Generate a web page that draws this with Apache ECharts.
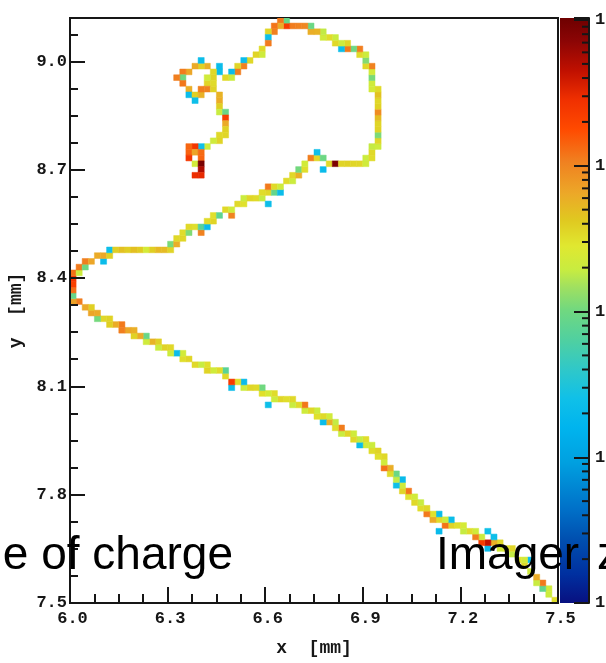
<!DOCTYPE html>
<html>
<head>
<meta charset="utf-8">
<script src="https://cdn.jsdelivr.net/npm/echarts@6.0.0/dist/echarts.min.js"></script>
<style>
  html, body { margin: 0; padding: 0; background: #ffffff; }
  #chart { width: 606px; height: 663px; }
</style>
</head>
<body>
<div id="chart"></div>
<script>
// Imager pixel hits of a single track: column / row index on the sensor and collected charge.
const pixelCol = [
  79,78,78,77,77,76,76,75,75,74, 74,73,72,72,71,70,70,69,69,68,
  68,68,67,67,66,66,65,64,64,63, 62,62,61,61,60,60,60,59,59,58,
  58,57,57,56,56,55,55,54,54,54, 53,53,53,52,52,51,51,51,50,50,
  49,49,48,48,47,47,46,46,45,44, 44,43,43,42,42,41,41,40,40,39,
  38,38,37,36,36,35,34,33,33,32, 32,31,31,30,29,28,28,27,26,26,
  25,25,24,23,22,22,21,20,19,18, 18,17,16,16,15,14,14,13,12,12,
  11,10,10,9,8,8,7,6,6,5, 4,4,3,3,2,1,0,0,0,0, 0,0,
  1,1,2,2,3,4,5,5,6,6, 7,8,9,10,11,12,13,14,15,16,
  16,17,17,18,18,19,19,20,21,21, 22,22,23,23,24,25,26,26,27,28,
  28,29,30,31,32,31,32,33,32,33, 34,34,35,36,36,37,37,38,38,39,
  40,40,41,41,42,43,44,45,46,47, 48,48,49,49,49,50,50,50,50,50,
  50,50,50,50,50,50,49,49,49,49, 49,48,48,48,47,47,46,45,44,45,
  44,43,43,42,41,41,40,39,39,38, 37,36,35,35,34,34,33,33,32,32,
  32,31,31,30,29,28,28,27,27,26, 26,25,24,24,
  23,23,23,22,22,22,21,20,21,19, 18,18,17,18,19,19,20,21,20,21, 22,
  23,24,24,24,24,25,25,25,25,25, 24,24,23,
  22,21,20,19,19,20,21,19,21,20, 21,21,20,21
];
const pixelRow = [
  0,1,2,2,3,3,4,5,7,6, 7,7,8,9,9,9,10,10,11,9,
  10,12,10,11,11,12,12,12,13,13, 13,14,13,14,12,14,15,14,15,15,
  16,16,17,17,18,18,19,19,20,21, 20,21,22,22,23,23,24,25,25,26,
  26,27,27,28,27,28,28,29,29,29, 30,30,31,31,32,31,32,32,33,33,
  33,34,34,34,35,35,35,35,36,34, 36,36,37,37,37,37,38,38,37,38,
  39,40,40,40,40,41,41,41,42,42, 43,43,43,44,44,44,45,45,45,46,
  46,46,47,47,47,48,48,48,49,49, 49,50,50,51,51,52,52,53,54,55, 56,57,
  57,58,58,59,59,60,59,60,60,61, 61,61,61,61,61,61,61,61,61,61,
  62,62,63,63,64,64,65,65,64,65, 65,66,66,67,67,68,67,68,69,69,
  70,70,70,70,69,71,71,71,72,72, 71,72,73,73,74,74,75,75,76,77,
  77,78,77,75,76,76,76,76,76,76, 76,77,77,78,79,79,80,81,82,83,
  84,85,86,87,88,89,89,90,91,92, 93,93,94,95,95,96,96,96,96,97,
  97,97,98,98,98,99,99,99,100,100, 100,100,100,101,101,100,100,99,99,98,
  97,96,95,95,94,94,93,93,92,92, 91,91,92,93,
  92,91,90,90,91,93,93,93,94,92, 92,91,91,90,89,88,88,88,87,89, 89,
  89,88,87,86,85,85,84,83,82,81, 81,80,80,
  79,79,79,79,78,78,78,77,77,76, 76,75,74,74
];
const charge = [
  318,206,221,84,1160,198,612,214,22,334, 231,297,188,352,308,226,341,575,24,21,
  4350,25,2280,203,1090,217,326,192,236,314, 362,23,1210,209,20,329,22,640,305,1140,
  347,322,198,338,224,301,1180,356,212,21, 24,187,96,331,598,1230,219,344,312,366,
  328,206,228,319,23,194,340,215,358,201, 1120,324,189,585,222,22,337,311,207,349,
  213,1170,330,199,342,318,355,211,327,24, 232,309,102,336,351,205,21,323,23,2410,
  345,74,332,218,361,316,196,339,357,320, 227,22,210,343,368,202,380,560,216,92,
  620,372,590,655,1080,1150,610,390,365,348, 105,630,670,385,640,1110,700,88,1260,2150, 2520,1240,
  210,1130,98,1090,660,620,22,645,374,24, 388,470,395,480,410,232,392,520,505,360,
  110,590,338,352,326,115,341,317,1050,72, 21,333,359,314,80,346,1020,224,338,305,
  200,354,330,190,23,321,348,86,1140,337, 22,213,329,205,342,580,104,318,226,1100,
  350,24,95,21,334,8700,362,371,355,348, 218,203,327,340,191,209,352,112,366,358,
  490,930,372,349,460,336,230,215,108,225, 1050,344,118,208,332,1090,98,1160,23,356,
  214,341,201,325,219,186,560,600,94,980, 1040,1120,2300,90,1150,610,1190,1070,348,24,
  1130,337,212,359,343,22,1060,351,1110,21, 204,338,23,22,
  346,362,331,357,220,590,378,620,23,650, 1120,100,1080,1170,600,22,384,575,24,1100, 1060,
  368,560,610,392,196,92,2250,630,375,352, 340,361,215,
  209,24,2600,1350,1420,680,1300,2450,1380,228, 9100,5200,2900,3100
];

// Colour-axis decades (charge on a log scale) and their labels.
const zDecades = [0, 1, 2, 3, 4];
const zDecadeLabels = ['1', '10', '10{s|2}', '10{s|3}', '10{s|4}'];

// Sensor geometry: pixel pitch and the position of pixel (0,0) edge in mm.
const PITCH_X = 0.01875;
const PITCH_Y = 0.0159;
const ORIGIN_X = 6.0;
const ORIGIN_Y = 7.5;
const X_MIN = 6.0, X_MAX = 7.5;
const Y_MIN = 7.5, Y_MAX = 9.12;
const LOG_Z_MAX = 4.014;

// Rainbow palette, bottom (low charge) to top (high charge).
const paletteStops = [
  [0.00, '#081080'], [0.05, '#0030a0'], [0.11, '#0050b0'], [0.16, '#0070c8'],
  [0.24, '#00a0e0'], [0.30, '#00b4ee'], [0.35, '#10c0e8'], [0.40, '#30c8c8'],
  [0.45, '#50d0a0'], [0.50, '#70d880'], [0.54, '#a0e060'], [0.57, '#c8ec40'],
  [0.61, '#e0e830'], [0.655, '#e0c820'], [0.70, '#eca828'], [0.755, '#f08020'],
  [0.81, '#ff4a00'], [0.86, '#f03000'], [0.91, '#c01000'], [0.96, '#8c0505'],
  [1.00, '#6e0000']
];

function hexToRgb(h) {
  return [parseInt(h.slice(1, 3), 16), parseInt(h.slice(3, 5), 16), parseInt(h.slice(5, 7), 16)];
}
function paletteAt(t) {
  for (let k = 1; k < paletteStops.length; k++) {
    const [t1, c1] = paletteStops[k];
    if (t <= t1) {
      const [t0, c0] = paletteStops[k - 1];
      const f = (t - t0) / (t1 - t0);
      const a = hexToRgb(c0), b = hexToRgb(c1);
      const m = a.map((v, i) => Math.round(v + (b[i] - v) * f));
      return 'rgb(' + m.join(',') + ')';
    }
  }
  return paletteStops[paletteStops.length - 1][1];
}
const mapColors = Array.from({ length: 121 }, (_, k) => paletteAt(k / 120));

// Hit table: pixel centre in mm, charge and log10(charge) for the colour mapping.
const hits = pixelCol.map((c, k) => [
  ORIGIN_X + (c + 0.5) * PITCH_X,
  ORIGIN_Y + (pixelRow[k] + 0.5) * PITCH_Y,
  charge[k],
  Math.log10(charge[k])
]);

// Minor ticks of the colour axis at 2..9 x 10^n.
const zMinorTicks = [];
zDecades.forEach(n => {
  for (let m = 2; m <= 9; m++) {
    const v = n + Math.log10(m);
    if (v < LOG_Z_MAX) zMinorTicks.push([1, v]);
  }
});

const INK = '#161616';
const MONO = '"Liberation Mono", "DejaVu Sans Mono", monospace';
const SANS = '46px "Liberation Sans", Arial, sans-serif';

const isMajor = v => Math.abs(v / 0.3 - Math.round(v / 0.3)) < 1e-6;

const chart = echarts.init(document.getElementById('chart'), null, { renderer: 'canvas' });

chart.setOption({
  animation: false,
  backgroundColor: '#ffffff',
  grid: [
    { left: 70, top: 18, width: 488, height: 585, show: true, borderColor: INK, borderWidth: 2,
      containLabel: false, outerBoundsMode: 'none' },
    { left: 560, top: 18, width: 29, height: 585, containLabel: false, outerBoundsMode: 'none' }
  ],
  xAxis: [
    {
      gridIndex: 0, type: 'value', min: X_MIN, max: X_MAX, interval: 0.3, z: 5,
      axisLine: { onZero: false, lineStyle: { color: INK, width: 2 } },
      axisTick: { inside: true, length: 16, lineStyle: { color: INK, width: 2 } },
      minorTick: { show: true, splitNumber: 4, length: 9, lineStyle: { color: INK, width: 2 } },
      splitLine: { show: false },
      axisLabel: {
        margin: 7, color: INK, fontFamily: MONO, fontWeight: 'bold', fontSize: 17,
        padding: [0, 0, 0, 5],
        formatter: v => v.toFixed(1)
      },
      name: 'x  [mm]', nameLocation: 'middle', nameGap: 36,
      nameTextStyle: { color: INK, fontFamily: MONO, fontWeight: 'bold', fontSize: 18 }
    },
    { gridIndex: 1, type: 'value', min: 0, max: 1, show: false }
  ],
  yAxis: [
    {
      gridIndex: 0, type: 'value', position: 'left', offset: 0,
      min: Y_MIN, max: Y_MAX, interval: 0.3, z: 5,
      axisLine: { onZero: false, lineStyle: { color: INK, width: 2 } },
      axisTick: { inside: true, length: 15, lineStyle: { color: INK, width: 2 } },
      splitLine: { show: false },
      axisLabel: {
        margin: 3, color: INK, fontFamily: MONO, fontWeight: 'bold', fontSize: 17,
        formatter: v => (isMajor(v) ? v.toFixed(1) : '')
      },
      name: 'y  [mm]', nameLocation: 'middle', nameGap: 39, nameRotate: 90,
      nameTextStyle: { color: INK, fontFamily: MONO, fontWeight: 'bold', fontSize: 18 }
    },
    {
      gridIndex: 0, type: 'value', position: 'left', offset: 0,
      min: Y_MIN, max: Y_MAX, interval: 0.075, z: 5,
      axisLine: { show: false, onZero: false },
      axisTick: { inside: true, length: 8, lineStyle: { color: INK, width: 2 } },
      axisLabel: { show: false },
      splitLine: { show: false }
    },
    {
      gridIndex: 1, type: 'value', position: 'right', offset: 0,
      min: 0, max: LOG_Z_MAX, interval: 1, z: 5,
      axisLine: { show: true, onZero: false, lineStyle: { color: INK, width: 2 } },
      axisTick: { inside: true, length: 15, lineStyle: { color: INK, width: 2 } },
      splitLine: { show: false },
      axisLabel: {
        margin: 6, color: INK, fontFamily: MONO, fontWeight: 'bold', fontSize: 17,
        formatter: v => {
          const n = Math.round(v);
          return Math.abs(v - n) < 1e-6 && zDecades.includes(n) ? zDecadeLabels[n] : '';
        },
        rich: { s: { fontFamily: MONO, fontWeight: 'bold', fontSize: 11, verticalAlign: 'top', color: INK } }
      }
    }
  ],
  visualMap: {
    type: 'continuous', show: false, seriesIndex: 0, dimension: 3,
    min: 0, max: LOG_Z_MAX, inRange: { color: mapColors }
  },
  series: [
    {
      name: 'hits', type: 'custom', xAxisIndex: 0, yAxisIndex: 0, clip: true, silent: true,
      dimensions: ['x', 'y', 'charge', 'logCharge'],
      encode: { x: 0, y: 1 },
      data: hits,
      renderItem(params, api) {
        const x = api.value(0), y = api.value(1);
        const a = api.coord([x - PITCH_X / 2, y + PITCH_Y / 2]);
        const b = api.coord([x + PITCH_X / 2, y - PITCH_Y / 2]);
        const color = api.visual('color');
        return {
          type: 'rect',
          shape: { x: a[0], y: a[1], width: b[0] - a[0], height: b[1] - a[1] },
          style: { fill: color, stroke: color, lineWidth: 0.5 }
        };
      }
    },
    {
      name: 'colour scale', type: 'custom', xAxisIndex: 1, yAxisIndex: 2, silent: true, z: 1,
      data: [[0, 0]],
      renderItem(params, api) {
        const tl = api.coord([0, LOG_Z_MAX]);
        const br = api.coord([1, 0]);
        return {
          type: 'rect',
          shape: { x: tl[0], y: tl[1], width: br[0] - tl[0], height: br[1] - tl[1] },
          style: {
            fill: new echarts.graphic.LinearGradient(0, 1, 0, 0,
              paletteStops.map(([o, c]) => ({ offset: o, color: c })))
          }
        };
      }
    },
    {
      name: 'colour scale minor ticks', type: 'custom', xAxisIndex: 1, yAxisIndex: 2, silent: true, z: 6,
      data: zMinorTicks,
      renderItem(params, api) {
        const p = api.coord([1, api.value(1)]);
        return {
          type: 'line',
          shape: { x1: p[0] - 7, y1: p[1], x2: p[0], y2: p[1] },
          style: { stroke: INK, lineWidth: 2 }
        };
      }
    }
  ],
  graphic: [
    {
      type: 'text', x: 233, y: 556, z: 100, silent: true,
      style: { text: 'e of charge', align: 'right', verticalAlign: 'middle', font: SANS, fill: '#000000' }
    },
    {
      type: 'text', x: 436, y: 556, z: 100, silent: true,
      style: { text: 'Imager', align: 'left', verticalAlign: 'middle', font: SANS, fill: '#000000' }
    },
    {
      type: 'text', x: 597, y: 556, z: 100, silent: true,
      style: { text: 'z', align: 'left', verticalAlign: 'middle', font: SANS, fill: '#000000' }
    }
  ]
});
</script>
</body>
</html>
